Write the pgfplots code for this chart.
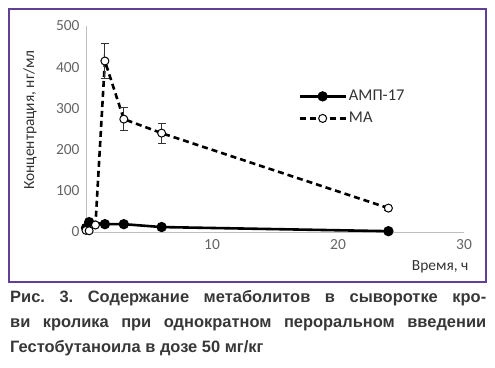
\documentclass[border=0pt]{standalone}
\usepackage{pgfplots}
\pgfplotsset{compat=1.18}
\usepackage{fontspec}
\setmainfont{Carlito}
\newfontfamily\capfont{Liberation Sans}
\definecolor{frame}{RGB}{96,64,150}
\definecolor{tickgray}{RGB}{100,100,100}
\definecolor{axgray}{RGB}{190,190,190}
\definecolor{captxt}{RGB}{55,55,55}
\begin{document}
\frenchspacing
\begin{tikzpicture}[x=1bp,y=1bp]
\useasboundingbox (0,0) rectangle (495,367);
\draw[frame, line width=2.5bp] (9,85) rectangle (486,358);
\begin{axis}[
  at={(86bp,135bp)}, anchor=south west,
  scale only axis, width=378bp, height=206bp,
  xmin=0, xmax=30, ymin=0, ymax=500,
  xtick={10,20,30}, ytick={0,100,200,300,400,500},
  axis x line=bottom, axis y line=left,
  axis line style={axgray, line width=1bp, -},
  major tick length=0pt,
  tick label style={font=\fontsize{15.5}{16}\selectfont, text=tickgray},
  /pgf/number format/assume math mode=true,
  yticklabel style={xshift=-3bp},
  xticklabel style={yshift=-4bp},
  xlabel={Время, ч}, ylabel={Концентрация, нг/мл},
  every axis x label/.style={at={(axis description cs:0.937,-0.17)}, anchor=center,
    font=\fontsize{15.5}{16}\selectfont, text=black!80},
  every axis y label/.style={at={(axis description cs:-0.148,0.544)}, anchor=center, rotate=90,
    font=\fontsize{15.5}{16}\selectfont, text=black!80},
  legend style={draw=none, fill=none, at={(axis cs:16.6,354)}, anchor=north west,
    font=\fontsize{16.5}{17}\selectfont, text=black!80, row sep=6bp,
    /tikz/every even column/.append style={column sep=2bp}},
  legend cell align=left,
  legend image code/.code={\draw[mark repeat=2,mark phase=2,#1] plot coordinates {(0bp,0bp) (23bp,0bp) (46bp,0bp)};},
  clip=false,
]
\addplot[black, line width=2.6bp, mark=*, mark size=3.8bp, mark options={solid, fill=black}]
  coordinates {(0,10) (0.25,24) (1.5,19) (3,19) (6,12) (24,2)};
\addlegendentry{АМП-17}
\addplot[black, line width=2.6bp, dash pattern=on 6bp off 4bp, mark=*, mark size=4bp,
  mark options={solid, fill=white, draw=black, line width=1bp},
  error bars/.cd, y dir=both, y explicit,
  error bar style={line width=1bp, solid, black!80},
  error mark options={rotate=90, mark size=4bp, line width=1bp, black!80}]
  coordinates {(0,4) +- (0,0) (0.25,3) +- (0,0) (0.75,17) +- (0,0)
  (1.5,415) +- (0,42) (3,274) +- (0,27) (6,240) +- (0,24) (24,58) +- (0,6)};
\addlegendentry{МА}
\end{axis}
\node[anchor=north west, text width=476bp, align=justify, inner sep=0pt, text=captxt,
  font=\capfont\bfseries\fontsize{16.5}{25}\selectfont] at (10,77)
  {Рис. 3. Содержание метаболитов в сыворотке кро-\linebreak ви кролика при однократном пероральном введении\linebreak Гестобутаноила в дозе 50 мг/кг};
\end{tikzpicture}
\end{document}
